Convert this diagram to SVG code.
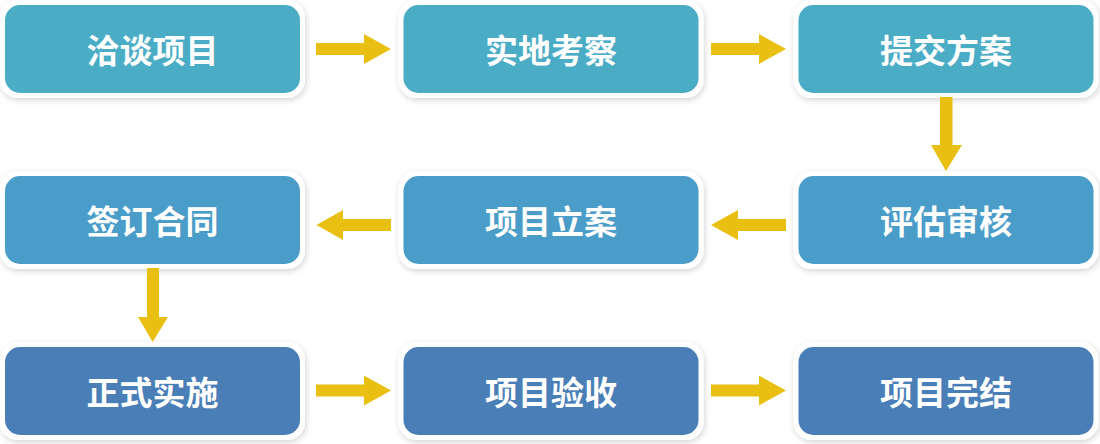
<svg xmlns="http://www.w3.org/2000/svg" width="1100" height="444" viewBox="0 0 1100 444">
<defs>
<filter id="sh" x="-10%" y="-20%" width="120%" height="140%">
<feGaussianBlur in="SourceAlpha" stdDeviation="3"/>
<feOffset dx="1" dy="2"/>
<feComponentTransfer><feFuncA type="linear" slope="0.18"/></feComponentTransfer>
<feMerge><feMergeNode/><feMergeNode in="SourceGraphic"/></feMerge>
</filter>
</defs>
<style>
.frame{fill:#ffffff;filter:url(#sh)}
.r1{fill:#4BACC6}
.r2{fill:#4A9DC8}
.r3{fill:#497EB7}
.lbl{font-family:"Noto Sans CJK SC","Noto Sans",sans-serif;font-weight:bold;font-size:33px;fill:#ffffff;text-anchor:middle;dominant-baseline:central}
.arr{fill:#E9C012}
</style>
<rect width="1100" height="444" fill="#ffffff"/>
<g id="n1"><rect class="frame" x="0" y="0" width="305" height="98" rx="18"/><rect class="r1" x="5" y="5" width="295" height="88" rx="15"/><text class="lbl" x="152.5" y="49">洽谈项目</text></g>
<g id="n2"><rect class="frame" x="398.5" y="0" width="305" height="98" rx="18"/><rect class="r1" x="403.5" y="5" width="295" height="88" rx="15"/><text class="lbl" x="551" y="49">实地考察</text></g>
<g id="n3"><rect class="frame" x="793.5" y="0" width="305" height="98" rx="18"/><rect class="r1" x="798.5" y="5" width="295" height="88" rx="15"/><text class="lbl" x="946" y="49">提交方案</text></g>
<g id="n4"><rect class="frame" x="793.5" y="171" width="305" height="98" rx="18"/><rect class="r2" x="798.5" y="176" width="295" height="88" rx="15"/><text class="lbl" x="946" y="220">评估审核</text></g>
<g id="n5"><rect class="frame" x="398.5" y="171" width="305" height="98" rx="18"/><rect class="r2" x="403.5" y="176" width="295" height="88" rx="15"/><text class="lbl" x="551" y="220">项目立案</text></g>
<g id="n6"><rect class="frame" x="0" y="171" width="305" height="98" rx="18"/><rect class="r2" x="5" y="176" width="295" height="88" rx="15"/><text class="lbl" x="152.5" y="220">签订合同</text></g>
<g id="n7"><rect class="frame" x="0" y="342" width="305" height="98" rx="18"/><rect class="r3" x="5" y="347" width="295" height="88" rx="15"/><text class="lbl" x="152.5" y="391">正式实施</text></g>
<g id="n8"><rect class="frame" x="398.5" y="342" width="305" height="98" rx="18"/><rect class="r3" x="403.5" y="347" width="295" height="88" rx="15"/><text class="lbl" x="551" y="391">项目验收</text></g>
<g id="n9"><rect class="frame" x="793.5" y="342" width="305" height="98" rx="18"/><rect class="r3" x="798.5" y="347" width="295" height="88" rx="15"/><text class="lbl" x="946" y="391">项目完结</text></g>
<g id="connectors">
<polygon class="arr" points="316,43 364,43 364,34 391,49 364,64 364,55 316,55"/>
<polygon class="arr" points="711,43 759,43 759,34 786,49 759,64 759,55 711,55"/>
<polygon class="arr" points="940,97 952.5,97 952.5,145 962,145 946,171 931,145 940,145"/>
<polygon class="arr" points="786,219 738,219 738,210 711,225 738,240 738,231 786,231"/>
<polygon class="arr" points="391,219 343,219 343,210 316.5,225 343,240 343,231 391,231"/>
<polygon class="arr" points="147,268 159,268 159,317 168,317 152.7,342 138,317 147,317"/>
<polygon class="arr" points="316,384.5 364,384.5 364,375.5 391,390.5 364,405.5 364,396.5 316,396.5"/>
<polygon class="arr" points="711,384.5 759,384.5 759,375.5 786,390.5 759,405.5 759,396.5 711,396.5"/>
</g>
</svg>
